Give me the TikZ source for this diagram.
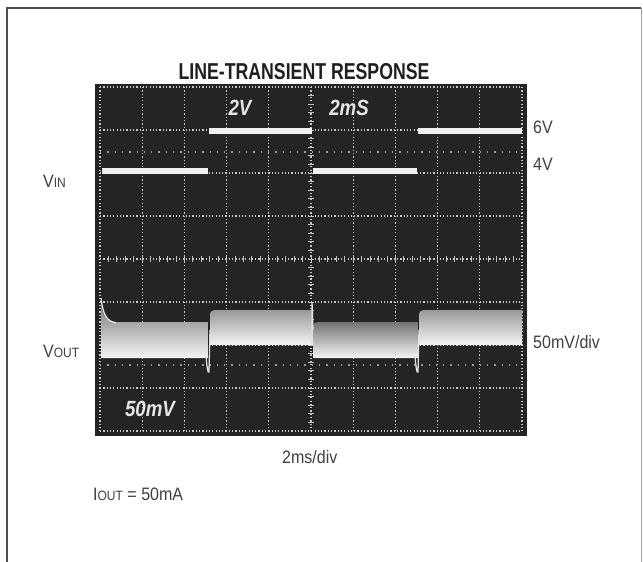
\documentclass[tikz,border=0pt]{standalone}
\usepackage{fontspec}
\setmainfont{Liberation Sans}
\newfontfamily\lblfont[FakeStretch=0.89]{Liberation Sans}
\newfontfamily\ttlfont[FakeStretch=0.77]{Liberation Sans}
\newfontfamily\scrfont[FakeStretch=0.85]{Liberation Sans}
\newcommand\smc[1]{{\fontsize{13.5}{15}\selectfont #1}}
\begin{document}
\begin{tikzpicture}[x=1pt,y=-1pt,
  frameln/.style={draw=black!70, line width=1.4pt},
  scrbg/.style={fill=black!86},
  gridln/.style={draw=white!78!black, line width=1.2pt, dash pattern=on 1.2pt off 2.1pt},
  tickln/.style={draw=white!75!black, line width=0.9pt},
  faintln/.style={draw=white!60!black, line width=1.3pt, dash pattern=on 1.3pt off 6pt},
  vintr/.style={draw=white!94!black, line width=5.5pt},
  lowband/.style={top color=white!45!black, bottom color=white!96!black},
  highband/.style={top color=white!60!black, middle color=white!90!black, bottom color=white!96!black},
  spike/.style={draw=white!88!black, line width=1.3pt},
  lbl/.style={font=\lblfont\fontsize{18}{20}\selectfont, text=black!75, inner sep=0pt},
  ttl/.style={font=\ttlfont\bfseries\fontsize{23}{26}\selectfont, text=black!88, inner sep=0pt},
  scrtxt/.style={font=\scrfont\bfseries\itshape\fontsize{22}{24}\selectfont, text=white!90!black, inner sep=0pt}
]
\useasboundingbox (0,0) rectangle (643,562);
\fill[white] (0,0) rectangle (643,562);
% outer frame
\draw[frameln] (7,562) -- (7,8) -- (641,8);
\draw[draw=black!35, line width=1pt] (641,8) -- (641,562);
% screen
\fill[scrbg] (95,84) rectangle (527,436);
% grid
\foreach \i in {0,...,10} \draw[gridln] ({100+42.2*\i},87) -- ({100+42.2*\i},431);
\foreach \j in {0,...,8} \draw[gridln] (100,{87+43*\j}) -- (522,{87+43*\j});
% centre axis ticks
\foreach \k in {1,...,39} \draw[tickln] (308,{87+8.6*\k}) -- (314,{87+8.6*\k});
\foreach \k in {1,...,49} \draw[tickln] ({100+8.44*\k},256) -- ({100+8.44*\k},262);
% faint rows
\draw[faintln] (100,152) -- (522,152);
\draw[faintln] (100,365) -- (522,365);
% VIN trace
\draw[vintr] (102,171) -- (208,171);
\draw[vintr] (209,131) -- (312,131);
\draw[vintr] (313,171) -- (417,171);
\draw[vintr] (418,131) -- (522,131);
% VOUT low bands
\shade[lowband] (101,358) -- (101,300) .. controls (102,314) and (105,321) .. (116,322) -- (208,322) -- (208,358) -- cycle;
\shade[lowband] (313,358) -- (313,328) .. controls (313,323) and (315,322) .. (320,322) -- (418,322) -- (418,358) -- cycle;
% VOUT high bands
\shade[highband] (210,345) -- (210,316) .. controls (210,311) and (212,310) .. (217,310) -- (313,310) -- (313,345) -- cycle;
\shade[highband] (419,345) -- (419,316) .. controls (419,311) and (421,310) .. (426,310) -- (522,310) -- (522,345) -- cycle;
% transients
\draw[spike] (101,298) .. controls (103,314) and (106,321) .. (116,323);
\draw[spike] (206,356) .. controls (207,368) and (208,374) .. (209,372) -- (210,330);
\draw[spike] (415,356) .. controls (416,368) and (417,374) .. (418,372) -- (419,330);
\draw[spike] (312,345) -- (312,302) -- (313,330);
% on-screen texts
\node[scrtxt] (sv) at (240,108) {2V};
\node[scrtxt] (st) at (349,108) {2mS};
\node[scrtxt] (sm) at (150,409) {50mV};
% labels
\node[ttl, anchor=base] (title) at (304,79) {LINE-TRANSIENT RESPONSE};
\node[lbl, anchor=base west] (v6) at (533,133) {6V};
\node[lbl, anchor=base west] (v4) at (533,170) {4V};
\node[lbl, anchor=base west] (vin) at (43,187) {V\smc{IN}};
\node[lbl, anchor=base west] (vout) at (43,357) {V\smc{OUT}};
\node[lbl, anchor=base west] (mvdiv) at (533,348) {50mV/div};
\node[lbl, anchor=base west] (msdiv) at (282,463) {2ms/div};
\node[lbl, anchor=base west] (iout) at (93,500) {I\smc{OUT} = 50mA};
\end{tikzpicture}
\end{document}
